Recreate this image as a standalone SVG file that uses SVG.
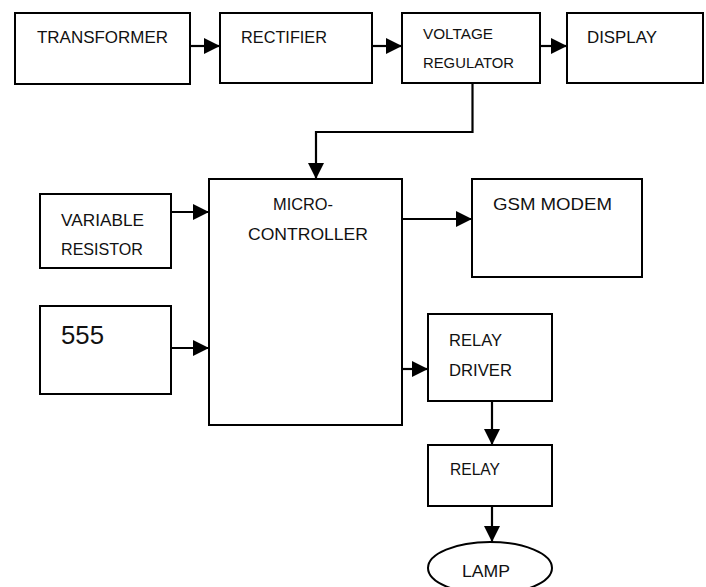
<svg xmlns="http://www.w3.org/2000/svg" width="706" height="587" viewBox="0 0 706 587">
<style>
.box{fill:#fff;stroke:#000;stroke-width:2}
.ln{fill:none;stroke:#000;stroke-width:2.2;marker-end:url(#ah)}
text{font-family:"Liberation Sans",Arial,sans-serif;font-size:17px;fill:#111}
.s{font-size:15px}
</style>
<defs>
<marker id="ah" markerUnits="userSpaceOnUse" markerWidth="16" markerHeight="16" refX="15" refY="7.5" orient="auto" viewBox="0 0 15 15">
<path d="M0,0 L15,7.5 L0,15 Z" fill="#000"/>
</marker>
</defs>
<rect width="706" height="587" fill="#fff"/>
<g id="transformer"><rect class="box" x="15" y="13" width="175" height="71"/><text x="37" y="43" textLength="131" lengthAdjust="spacingAndGlyphs">TRANSFORMER</text></g>
<g id="rectifier"><rect class="box" x="220" y="13" width="152" height="70"/><text x="241" y="43" textLength="86" lengthAdjust="spacingAndGlyphs">RECTIFIER</text></g>
<g id="regulator"><rect class="box" x="402" y="13" width="138" height="70"/><text class="s" x="423" y="39" textLength="70" lengthAdjust="spacingAndGlyphs">VOLTAGE</text><text class="s" x="423" y="68" textLength="91" lengthAdjust="spacingAndGlyphs">REGULATOR</text></g>
<g id="display"><rect class="box" x="567" y="13" width="136" height="70"/><text x="587" y="43" textLength="70" lengthAdjust="spacingAndGlyphs">DISPLAY</text></g>
<g id="micro"><rect class="box" x="209" y="179" width="193" height="246"/><text x="273" y="210" textLength="60" lengthAdjust="spacingAndGlyphs">MICRO-</text><text x="248" y="240" textLength="120" lengthAdjust="spacingAndGlyphs">CONTROLLER</text></g>
<g id="varres"><rect class="box" x="40" y="194" width="131" height="74"/><text x="61" y="226" textLength="83" lengthAdjust="spacingAndGlyphs">VARIABLE</text><text x="61" y="255" textLength="82" lengthAdjust="spacingAndGlyphs">RESISTOR</text></g>
<g id="timer555"><rect class="box" x="40" y="306" width="131" height="88"/><text x="61" y="344" style="font-size:25px" textLength="43" lengthAdjust="spacingAndGlyphs">555</text></g>
<g id="gsm"><rect class="box" x="472" y="179" width="170" height="98"/><text x="493" y="210" textLength="119" lengthAdjust="spacingAndGlyphs">GSM MODEM</text></g>
<g id="relaydriver"><rect class="box" x="428" y="314" width="124" height="87"/><text x="449" y="346" textLength="53" lengthAdjust="spacingAndGlyphs">RELAY</text><text x="449" y="376" textLength="63" lengthAdjust="spacingAndGlyphs">DRIVER</text></g>
<g id="relay"><rect class="box" x="428" y="445" width="124" height="61"/><text x="450" y="475" textLength="50" lengthAdjust="spacingAndGlyphs">RELAY</text></g>
<g id="lamp"><ellipse class="box" cx="490" cy="568" rx="62" ry="26"/><text x="462" y="577" textLength="48" lengthAdjust="spacingAndGlyphs">LAMP</text></g>
<g id="connectors">
<path class="ln" d="M190,46 H220"/>
<path class="ln" d="M372,46 H402"/>
<path class="ln" d="M540,46 H567"/>
<path class="ln" d="M472.5,83 V132 H316 V179"/>
<path class="ln" d="M171,212 H209"/>
<path class="ln" d="M171,348 H209"/>
<path class="ln" d="M402,219 H472"/>
<path class="ln" d="M402,369 H428"/>
<path class="ln" d="M492,401 V445"/>
<path class="ln" d="M492,506 V542"/>
</g>
</svg>
